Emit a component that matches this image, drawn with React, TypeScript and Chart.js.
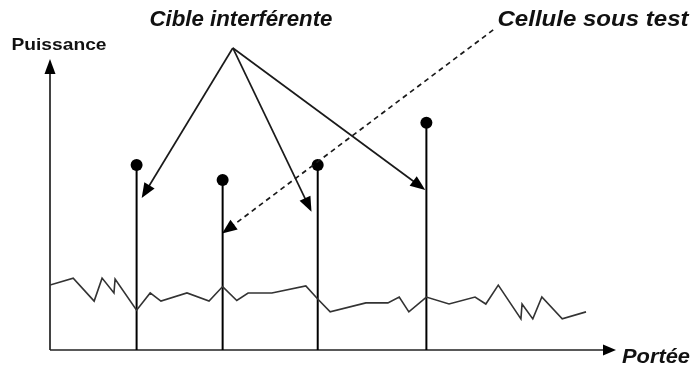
import React, { useEffect, useRef } from "react";
import { Chart, registerables } from "chart.js";

Chart.register(...registerables);

// Range (Portée) axis 0..100, power (Puissance) axis 0..100
const noiseX = [0.0, 4.1, 7.8, 9.2, 11.3, 11.5, 15.3, 17.7, 19.6, 24.2, 28.1, 30.5, 33.0, 35.0, 39.2, 45.2, 47.3, 49.5, 55.8, 59.7, 61.7, 63.4, 66.5, 70.5, 75.1, 77.0, 79.2, 83.2, 83.4, 85.3, 86.9, 90.5, 94.7];
const noiseY = [22.3, 24.7, 16.8, 24.7, 19.6, 24.4, 13.7, 19.6, 16.8, 19.6, 16.8, 21.8, 17.0, 19.6, 19.6, 22.0, 17.5, 13.1, 16.2, 16.2, 18.2, 13.1, 18.2, 15.8, 18.2, 15.8, 22.3, 10.7, 15.8, 10.7, 18.2, 10.7, 13.1];

const targetX = [15.3, 30.5, 47.3, 66.5];
const targetY = [63.6, 58.4, 63.6, 78.1];

// annotation arrows (data units)
const apex = { x: 32.3, y: 103.8 };
const interfererTips = [
  { x: 16.2, y: 52.2 },
  { x: 46.2, y: 47.5 },
  { x: 66.3, y: 55.0 },
];
const cutStart = { x: 78.3, y: 110.0 };
const cutTip = { x: 30.4, y: 40.0 };

const labelInterferer = "Cible interférente";
const labelCut = "Cellule sous test";
const labelY = "Puissance";
const labelX = "Portée";

function arrowHead(ctx: CanvasRenderingContext2D, x1: number, y1: number, x2: number, y2: number, len: number, half: number) {
  const a = Math.atan2(y2 - y1, x2 - x1);
  ctx.beginPath();
  ctx.moveTo(x2, y2);
  ctx.lineTo(x2 - len * Math.cos(a) + half * Math.sin(a), y2 - len * Math.sin(a) - half * Math.cos(a));
  ctx.lineTo(x2 - len * Math.cos(a) - half * Math.sin(a), y2 - len * Math.sin(a) + half * Math.cos(a));
  ctx.closePath();
  ctx.fill();
}

function arrow(ctx: CanvasRenderingContext2D, x1: number, y1: number, x2: number, y2: number, dashed: boolean, len = 15, half = 6) {
  const a = Math.atan2(y2 - y1, x2 - x1);
  ctx.save();
  ctx.setLineDash(dashed ? [5, 4] : []);
  ctx.beginPath();
  ctx.moveTo(x1, y1);
  ctx.lineTo(x2 - (len - 2) * Math.cos(a), y2 - (len - 2) * Math.sin(a));
  ctx.stroke();
  ctx.setLineDash([]);
  arrowHead(ctx, x1, y1, x2, y2, len, half);
  ctx.restore();
}

function fitText(ctx: CanvasRenderingContext2D, text: string, cx: number, cy: number, width: number, font: string) {
  ctx.save();
  ctx.font = font;
  ctx.textAlign = "center";
  ctx.textBaseline = "middle";
  ctx.fillStyle = "#111";
  const w = ctx.measureText(text).width;
  const s = width / w;
  ctx.translate(cx, cy);
  ctx.scale(s, 1);
  ctx.fillText(text, 0, 0);
  ctx.restore();
}

const overlay = {
  id: "overlay",
  beforeDatasetsDraw(chart: any) {
    const { ctx, chartArea } = chart;
    ctx.save();
    ctx.strokeStyle = "#222";
    ctx.fillStyle = "#000";
    ctx.lineWidth = 1.7;
    // y axis
    arrow(ctx, chartArea.left, chartArea.bottom, chartArea.left, chartArea.top, false, 15, 5.5);
    // x axis
    arrow(ctx, chartArea.left, chartArea.bottom, chartArea.right, chartArea.bottom, false, 13, 5.5);
    ctx.restore();
  },
  afterDatasetsDraw(chart: any) {
    const { ctx } = chart;
    const xs = chart.scales.x;
    const ys = chart.scales.y;
    const px = (p: { x: number; y: number }) => [xs.getPixelForValue(p.x), ys.getPixelForValue(p.y)];
    ctx.save();
    ctx.strokeStyle = "#1a1a1a";
    ctx.fillStyle = "#000";
    ctx.lineWidth = 1.7;
    const [ax, ay] = px(apex);
    interfererTips.forEach((t) => {
      const [tx, ty] = px(t);
      arrow(ctx, ax, ay, tx, ty, false);
    });
    const [sx, sy] = px(cutStart);
    const [cx, cy] = px(cutTip);
    arrow(ctx, sx, sy, cx, cy, true);
    ctx.restore();

    fitText(ctx, labelInterferer, 241, 20, 183, "italic bold 22px 'Liberation Sans'");
    fitText(ctx, labelCut, 593, 20, 191, "italic bold 22px 'Liberation Sans'");
    fitText(ctx, labelY, 59, 45, 95, "bold 17px 'Liberation Sans'");
    fitText(ctx, labelX, 656, 357, 68, "italic bold 20px 'Liberation Sans'");
  },
};

export default function App() {
  const ref = useRef<HTMLCanvasElement | null>(null);
  useEffect(() => {
    if (!ref.current) return;
    const stems = targetX.map((x, i) => ({
      data: [
        { x, y: 0 },
        { x, y: targetY[i] },
      ],
      showLine: true,
      borderColor: "#000",
      borderWidth: 2,
      pointRadius: [0, 6],
      pointBackgroundColor: "#000",
      pointBorderColor: "#000",
      pointBorderWidth: 0,
    }));
    const chart = new Chart(ref.current, {
      type: "scatter",
      data: {
        datasets: [
          {
            data: noiseX.map((x, i) => ({ x, y: noiseY[i] })),
            showLine: true,
            borderColor: "#333",
            borderWidth: 1.6,
            pointRadius: 0,
            tension: 0,
          } as any,
          ...(stems as any[]),
        ],
      },
      options: {
        animation: false,
        responsive: false,
        devicePixelRatio: 1,
        events: [],
        layout: { padding: { left: 50, right: 74, top: 59, bottom: 20 } },
        scales: {
          x: { type: "linear", min: 0, max: 100, display: false },
          y: { type: "linear", min: 0, max: 100, display: false },
        },
        plugins: { legend: { display: false }, tooltip: { enabled: false } },
      },
      plugins: [overlay],
    });
    return () => chart.destroy();
  }, []);
  return (
    <div style={{ position: "fixed", left: 0, top: 0, width: 690, height: 370, background: "#fff" }}>
      <canvas ref={ref} width={690} height={370} style={{ width: 690, height: 370 }} />
    </div>
  );
}
